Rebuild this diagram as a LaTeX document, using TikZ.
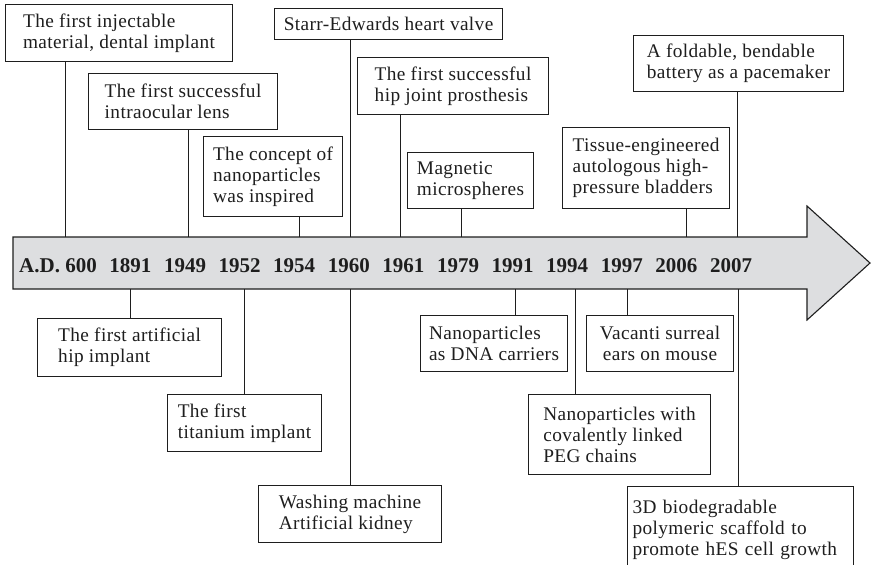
\documentclass[tikz,border=0pt]{standalone}
\usepackage{fontspec}
\setmainfont{Liberation Serif}
\newfontfamily\boxfont[LetterSpace=2]{Liberation Serif}
\definecolor{ink}{RGB}{30,30,30}
\definecolor{arrowfill}{RGB}{221,222,224}
\begin{document}
\begin{tikzpicture}[x=1pt,y=-1pt,
  evbox/.style={draw=ink, line width=1.1pt, fill=white, inner xsep=0pt, inner ysep=0pt,
    align=left, font=\boxfont\fontsize{19.3}{21}\selectfont, text=ink, anchor=north west},
  conn/.style={draw=ink, line width=1pt},
  yr/.style={font=\bfseries\fontsize{21}{21}\selectfont, anchor=base west, inner sep=0pt, text=ink}]
\useasboundingbox (0,0) rectangle (871,565);

% timeline arrow
\draw[ink, line width=1.1pt, fill=arrowfill, line join=miter]
  (13,237) -- (807,237) -- (807,206) -- (870,263) -- (807,320) -- (807,289) -- (13,289) -- cycle;

% years
\node[yr] (y0) at (19,272) {A.D. 600};
\foreach \yy [count=\i] in {1891,1949,1952,1954,1960,1961,1979,1991,1994,1997,2006,2007}
  \node[yr] (y\i) at ({109.2+(\i-1)*54.6},272) {\yy};

% upper event boxes
\node[evbox, minimum width=227pt, minimum height=57pt] (b1) at (5,4) {The first injectable\\material, dental implant};
\node[evbox, minimum width=189pt, minimum height=56pt] (b2) at (88,73) {The first successful\\intraocular lens};
\node[evbox, minimum width=139pt, minimum height=80pt] (b3) at (203,136) {The concept of\\nanoparticles\\was inspired};
\node[evbox, minimum width=228pt, minimum height=31pt] (b4) at (274,8) {Starr-Edwards heart valve};
\node[evbox, minimum width=191pt, minimum height=57pt] (b5) at (357,57) {The first successful\\hip joint prosthesis};
\node[evbox, minimum width=126pt, minimum height=56pt] (b6) at (407,152) {Magnetic\\microspheres};
\node[evbox, minimum width=167pt, minimum height=81pt] (b7) at (562,127) {Tissue-engineered\\autologous high-\\pressure bladders};
\node[evbox, minimum width=210pt, minimum height=56pt] (b8) at (633,35) {A foldable, bendable\\battery as a pacemaker};

% lower event boxes
\node[evbox, minimum width=184pt, minimum height=58pt] (b9) at (37,318) {The first artificial\\hip implant};
\node[evbox, minimum width=154pt, minimum height=57pt] (b10) at (167,394) {The first\\titanium implant};
\node[evbox, minimum width=183pt, minimum height=57pt] (b11) at (258,485) {Washing machine\\Artificial kidney};
\node[evbox, minimum width=147pt, minimum height=56pt] (b12) at (420,315) {Nanoparticles\\as DNA carriers};
\node[evbox, minimum width=147pt, minimum height=56pt, align=center] (b13) at (586,315) {Vacanti surreal\\ears on mouse};
\node[evbox, minimum width=182pt, minimum height=80pt] (b14) at (528,394) {Nanoparticles with\\covalently linked\\PEG chains};
\node[evbox, minimum width=226pt, minimum height=86pt, text width=216pt] (b15) at (627,486) {3D biodegradable\\polymeric scaffold to\\promote hES cell growth};

% attachment points on the arrow
\coordinate (a1) at (65,237);
\coordinate (a2) at (188,237);
\coordinate (a3) at (299,237);
\coordinate (a4) at (350,237);
\coordinate (a5) at (400,237);
\coordinate (a6) at (461,237);
\coordinate (a7) at (686,237);
\coordinate (a8) at (737,237);
\coordinate (a9) at (130,289);
\coordinate (a10) at (244,289);
\coordinate (a11) at (350,289);
\coordinate (a12) at (515,289);
\coordinate (a13) at (627,289);
\coordinate (a14) at (575,289);
\coordinate (a15) at (738,289);

% connectors
\foreach \k in {1,...,8}
  \draw[conn] (b\k.south -| a\k) -- (a\k);
\foreach \k in {9,...,15}
  \draw[conn] (a\k) -- (b\k.north -| a\k);
\end{tikzpicture}
\end{document}
